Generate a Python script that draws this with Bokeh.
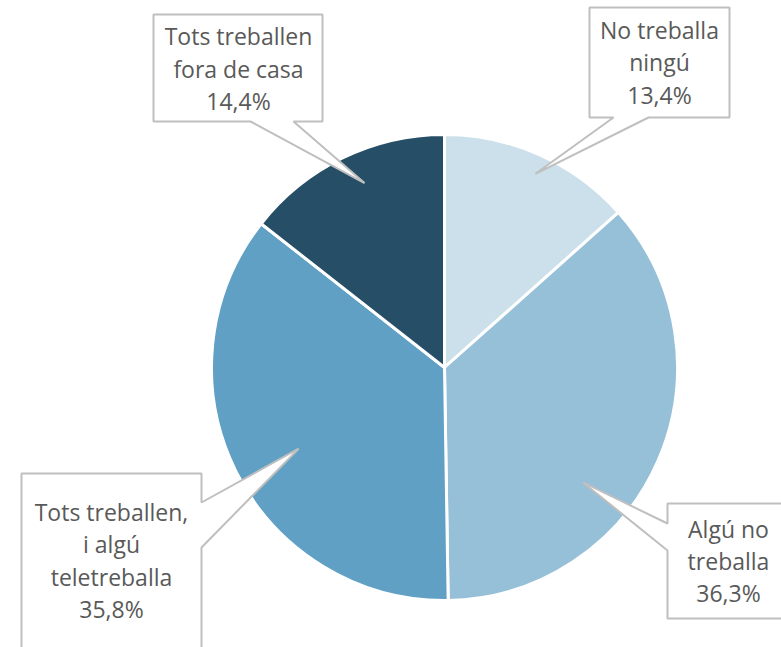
import math
from bokeh.plotting import figure
from bokeh.models import Range1d, ColumnDataSource
from bokeh.core.properties import value
from bokeh.embed import file_html
from bokeh.resources import INLINE

# ---- data ----
categories = ["No treballa ningú", "Algú no treballa",
              "Tots treballen, i algú teletreballa", "Tots treballen fora de casa"]
shares = [13.4, 36.3, 35.8, 14.4]
label_lines = [["No treballa", "ningú", "13,4%"],
               ["Algú no", "treballa", "36,3%"],
               ["Tots treballen,", "i algú", "teletreballa", "35,8%"],
               ["Tots treballen", "fora de casa", "14,4%"]]
colors = ["#CCE0EB", "#96BFD8", "#5FA0C4", "#264F67"]

# ---- layout (screen pixels, y downward) ----
W, H = 781, 647
cx_s, cy_s, R = 444, 367, 233
TEXT_SHIFT = -10

def X(xs):
    return xs
def Y(ys):
    return H - ys

boxes = [
    dict(box=(589, 7, 729, 117), base=[(648, 117), (613, 117)], side="bottom", tip_r=214, dang=-1.0,
         tx=659, ty=[39, 71, 104]),
    dict(box=(667, 503, 790, 618), base=[(667, 523), (667, 550)], side="left", tip_r=180, dang=-16.0,
         tx=728, ty=[538, 570, 602]),
    dict(box=(21, 473, 201, 660), base=[(201, 547), (201, 502)], side="right", tip_r=167, dang=2.7,
         tx=111, ty=[521, 553, 586, 618]),
    dict(box=(153, 14, 322, 121), base=[(293, 121), (250, 121)], side="bottom", tip_r=201, dang=-2.5,
         tx=238, ty=[45, 78, 110]),
]

p = figure(width=W, height=H, output_backend="svg", toolbar_location=None,
           x_range=Range1d(0, W), y_range=Range1d(0, H),
           min_border=0, outline_line_color=None, background_fill_color="white")
p.axis.visible = False
p.grid.visible = False

total = sum(shares)
starts, ends, mids = [], [], []
acc = 0.0
for s in shares:
    a0 = math.pi / 2 - 2 * math.pi * acc / total
    acc += s
    a1 = math.pi / 2 - 2 * math.pi * acc / total
    starts.append(a0)
    ends.append(a1)
    mids.append((a0 + a1) / 2)

src = ColumnDataSource(dict(start=starts, end=ends, color=colors, cat=categories))
p.wedge(x=X(cx_s), y=Y(cy_s), radius=R, start_angle="start", end_angle="end",
        direction="clock", fill_color="color", line_color="white", line_width=3, source=src)

for b, mid, lines in zip(boxes, mids, label_lines):
    l, t, r, btm = b["box"]
    ang = mid + math.radians(b["dang"])
    tip = (cx_s + b["tip_r"] * math.cos(ang), cy_s - b["tip_r"] * math.sin(ang))
    (p1, p2) = b["base"]
    if b["side"] == "bottom":
        pts = [(l, t), (r, t), (r, btm), (p1[0], btm), tip, (p2[0], btm), (l, btm)]
    elif b["side"] == "left":
        pts = [(l, t), (r, t), (r, btm), (l, btm), (l, p2[1]), tip, (l, p1[1])]
    else:
        pts = [(l, t), (r, t), (r, p2[1]), tip, (r, p1[1]), (r, btm), (l, btm)]
    xs = [X(px) for px, py in pts]
    ys = [Y(py) for px, py in pts]
    p.patch(xs, ys, fill_color="white", line_color="#BFBFBF", line_width=2)
    p.text(x=[X(b["tx"])] * len(lines), y=[Y(v + TEXT_SHIFT) for v in b["ty"]], text=lines,
           text_font=value("Open Sans"), text_font_size="23px", text_color="#595959",
           text_align="center", text_baseline="alphabetic")

open("out.html", "w").write(file_html(p, INLINE))
